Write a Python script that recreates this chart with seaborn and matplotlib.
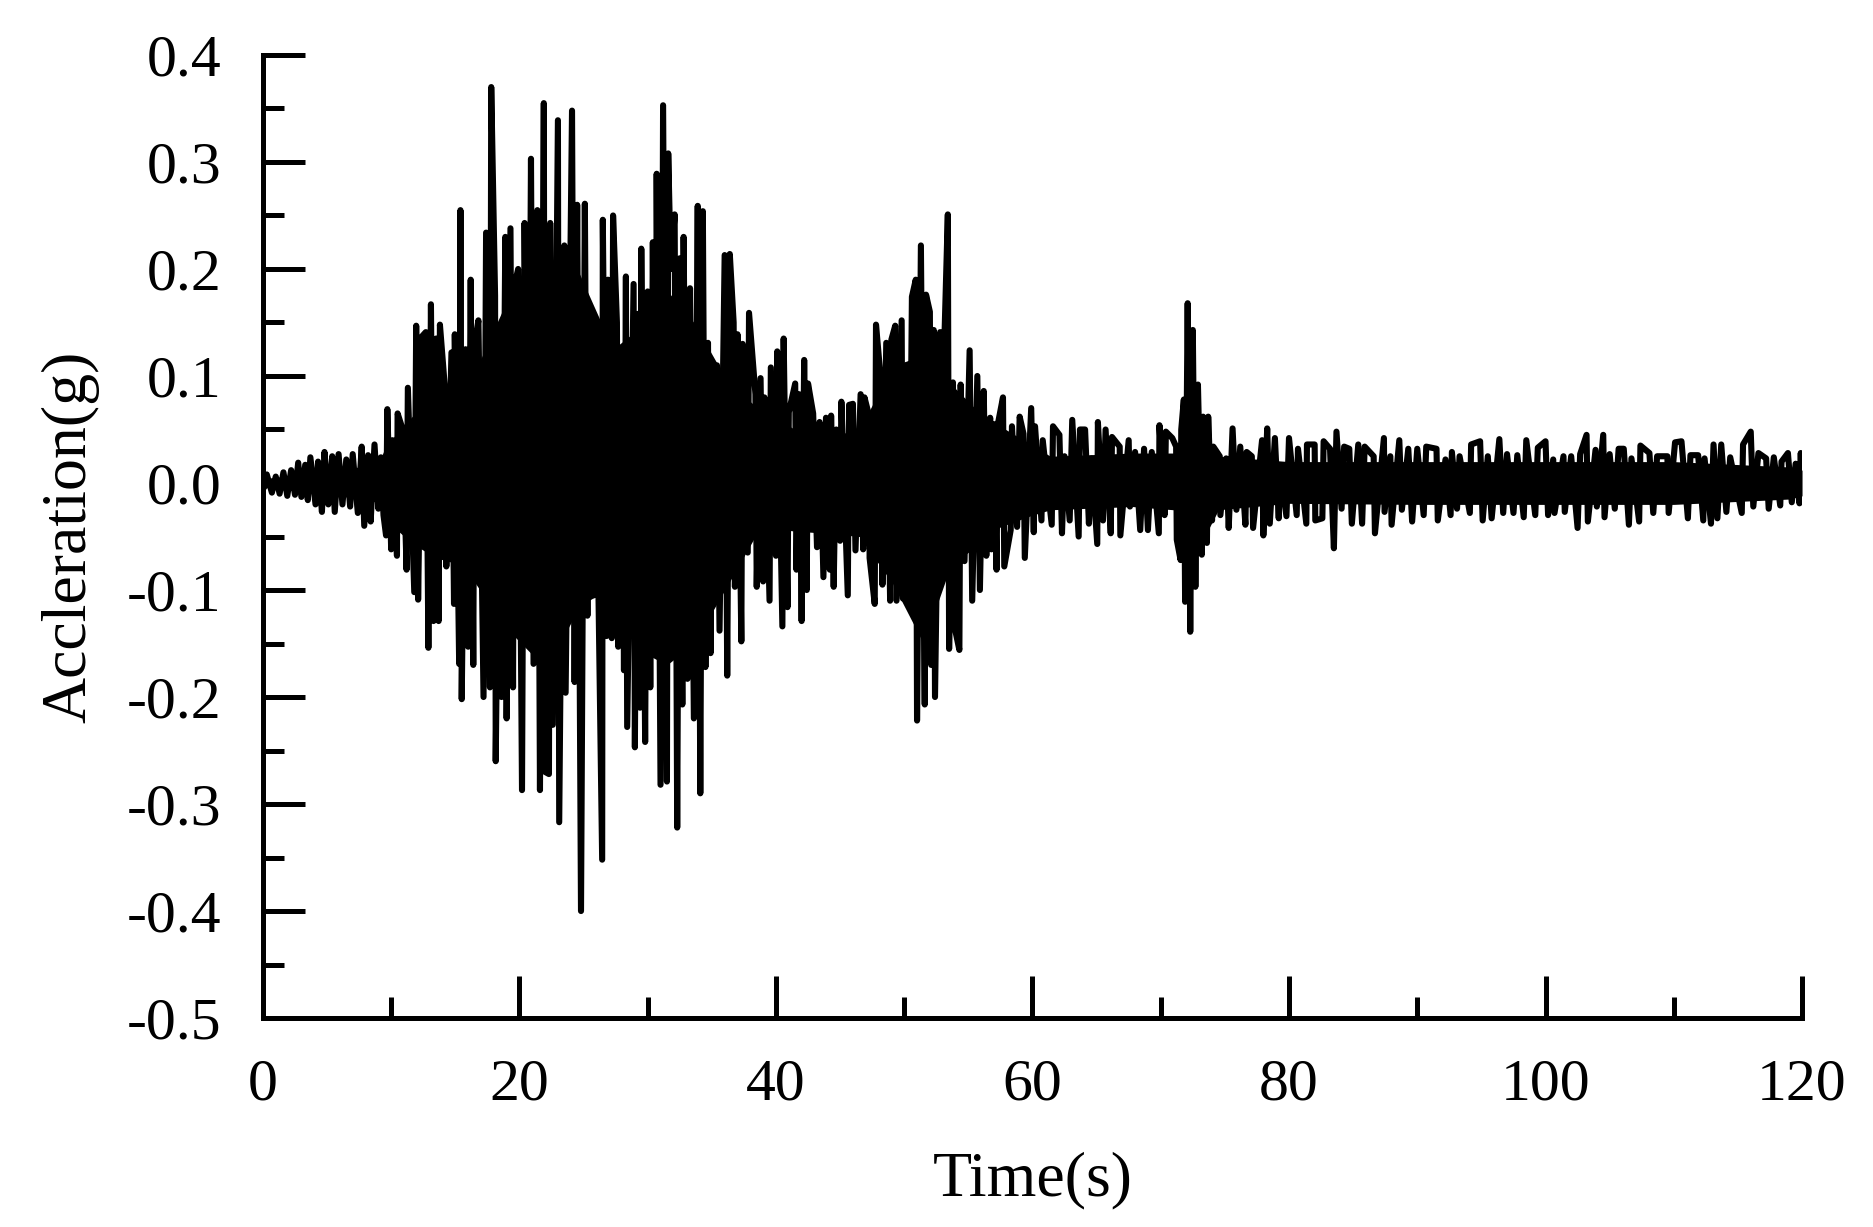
import pandas as pd
import matplotlib
matplotlib.use("Agg")
import matplotlib.pyplot as plt
from matplotlib.ticker import MultipleLocator, FormatStrFormatter
import seaborn as sns

# positive peaks of the accelerogram (time in s, acceleration in g)
up_t = [0.0, 0.3, 1.0, 1.6, 2.2, 2.75, 3.3, 3.7, 4.3, 4.8, 5.4, 5.9, 6.5, 7.0, 7.7, 8.2, 8.7, 9.2,
        9.7, 10.1, 10.5, 10.9, 11.3, 11.95, 12.4, 12.7, 13.1, 13.5, 13.8, 14.2, 14.7, 14.96, 15.4, 15.8,
        16.2, 16.5, 16.8, 17.4, 17.8, 18.1, 18.5, 18.9, 19.3, 19.6, 19.9, 20.4, 20.9, 21.4, 21.9, 22.4,
        23.0, 23.5, 24.1, 24.5, 25.1, 25.4, 25.9, 26.5, 26.9, 27.3, 27.6, 28.0, 28.3, 28.9, 29.2, 29.5,
        30.0, 30.4, 30.7, 31.2, 31.6, 31.8, 32.1, 32.5, 32.8, 33.3, 33.9, 34.3, 34.7, 35.0, 35.4, 36.0,
        36.4, 36.7, 37.0, 37.4, 37.9, 38.4, 38.8, 39.1, 39.6, 40.1, 40.6, 41.0, 41.5, 41.8, 42.2, 42.5,
        42.9, 43.4, 43.9, 44.3, 44.7, 45.1, 45.7, 46.0, 46.6, 46.9, 47.3, 47.8, 48.2, 48.6, 49.0, 49.3,
        49.8, 50.2, 50.6, 50.9, 51.3, 51.7, 52.0, 52.3, 52.8, 53.1, 53.4, 53.8, 54.4, 55.1, 55.7, 56.2,
        56.7, 57.0, 57.3, 57.7, 58.4, 59.0, 59.3, 59.9, 60.2, 60.8, 61.6, 62.1, 62.5, 63.1, 63.7, 64.1,
        64.6, 65.1, 65.7, 66.2, 66.8, 67.5, 68.0, 68.7, 69.3, 69.9, 70.4, 70.9, 71.2, 71.6, 71.8, 72.1,
        72.5, 72.9, 73.3, 73.7, 74.1, 74.6, 75.1, 75.6, 76.2, 76.7, 77.1, 77.9, 78.3, 78.9, 79.3, 80.0,
        80.7, 81.4, 82.0, 82.7, 83.2, 83.7, 84.3, 84.7, 85.4, 85.9, 86.6, 87.4, 87.9, 88.6, 89.3, 90.0,
        90.7, 91.5, 92.2, 92.7, 93.3, 94.2, 94.9, 95.5, 96.4, 97.0, 97.8, 98.5, 99.4, 100.0, 100.6, 101.4,
        102.0, 102.7, 103.2, 103.9, 104.5, 105.0, 105.7, 106.1, 106.7, 107.4, 108.1, 108.7, 109.5, 110.1,
        110.6, 111.3, 111.9, 112.4, 113.1, 113.7, 114.4, 115.4, 116.0, 116.6, 117.2, 117.8, 118.4, 118.9,
        119.5, 119.9]
up_a = [0.0, 0.008, 0.006, 0.010, 0.012, 0.019, 0.017, 0.024, 0.020, 0.029, 0.025, 0.027, 0.022, 0.027, 0.034, 0.026, 0.036, 0.024,
        0.069, 0.040, 0.065, 0.050, 0.089, 0.147, 0.137, 0.141, 0.167, 0.135, 0.148, 0.087, 0.122, 0.139, 0.255, 0.125,
        0.190, 0.128, 0.152, 0.234, 0.370, 0.175, 0.126, 0.230, 0.238, 0.184, 0.200, 0.243, 0.303, 0.255, 0.355, 0.243,
        0.339, 0.222, 0.348, 0.260, 0.261, 0.144, 0.122, 0.246, 0.190, 0.250, 0.150, 0.117, 0.193, 0.186, 0.158, 0.219,
        0.179, 0.225, 0.289, 0.353, 0.308, 0.200, 0.251, 0.210, 0.230, 0.182, 0.259, 0.254, 0.131, 0.110, 0.110, 0.213,
        0.214, 0.150, 0.139, 0.130, 0.159, 0.083, 0.098, 0.080, 0.108, 0.123, 0.135, 0.066, 0.093, 0.083, 0.115, 0.093,
        0.065, 0.057, 0.061, 0.063, 0.050, 0.076, 0.073, 0.074, 0.083, 0.080, 0.061, 0.148, 0.093, 0.131, 0.134, 0.147,
        0.152, 0.110, 0.174, 0.190, 0.222, 0.176, 0.160, 0.143, 0.141, 0.120, 0.251, 0.094, 0.092, 0.124, 0.100, 0.086,
        0.061, 0.055, 0.055, 0.080, 0.053, 0.062, 0.046, 0.070, 0.053, 0.040, 0.053, 0.045, 0.025, 0.059, 0.050, 0.050,
        0.023, 0.057, 0.050, 0.043, 0.034, 0.040, 0.029, 0.032, 0.029, 0.054, 0.048, 0.042, 0.034, 0.050, 0.078, 0.168,
        0.143, 0.092, 0.062, 0.062, 0.034, 0.025, 0.023, 0.051, 0.034, 0.029, 0.025, 0.040, 0.051, 0.042, 0.014, 0.042,
        0.032, 0.036, 0.036, 0.039, 0.032, 0.048, 0.034, 0.032, 0.036, 0.034, 0.025, 0.042, 0.025, 0.040, 0.032, 0.032,
        0.034, 0.032, 0.022, 0.029, 0.025, 0.036, 0.039, 0.025, 0.041, 0.027, 0.026, 0.040, 0.033, 0.039, 0.022, 0.025,
        0.025, 0.027, 0.045, 0.031, 0.045, 0.027, 0.032, 0.032, 0.023, 0.035, 0.028, 0.025, 0.025, 0.038,
        0.039, 0.026, 0.026, 0.023, 0.036, 0.036, 0.024, 0.036, 0.048, 0.028, 0.023, 0.024, 0.020, 0.028,
        0.018, 0.028]

# negative peaks
dn_t = [0.1, 0.7, 1.3, 1.9, 2.5, 3.0, 3.5, 4.1, 4.6, 5.1, 5.6, 6.2, 6.8, 7.4, 7.9, 8.4, 9.0, 9.4,
        9.6, 10.0, 10.45, 11.2, 11.8, 12.1, 12.9, 13.3, 13.7, 14.3, 14.9, 15.3, 15.5, 16.0, 16.4, 17.2,
        17.7, 18.15, 18.6, 19.0, 19.5, 20.2, 20.7, 21.1, 21.6, 22.0, 22.3, 22.6, 23.1, 23.6, 24.3, 24.8,
        25.3, 25.8, 26.45, 26.8, 27.2, 27.7, 28.15, 28.4, 29.0, 29.4, 29.8, 30.2, 30.6, 31.0, 31.5, 32.3,
        32.7, 33.1, 33.6, 34.1, 34.5, 34.9, 35.6, 36.2, 36.8, 37.3, 37.8, 38.5, 39.0, 39.5, 40.0, 40.5,
        40.9, 41.6, 42.0, 42.4, 43.2, 43.7, 44.2, 44.5, 45.0, 45.6, 46.2, 46.8, 47.3, 47.7, 48.3, 48.9,
        49.4, 49.9, 50.4, 51.0, 51.6, 52.1, 52.4, 52.9, 53.5, 53.9, 54.3, 54.7, 55.3, 55.9, 56.4, 56.8,
        57.2, 57.8, 58.3, 58.8, 59.4, 60.1, 60.7, 61.5, 62.3, 62.9, 63.6, 64.4, 65.05, 65.5, 66.1, 66.85,
        67.6, 68.4, 69.0, 69.85, 70.3, 71.25, 71.55, 71.9, 72.3, 72.7, 73.2, 73.6, 74.0, 74.65, 75.3, 75.9,
        76.6, 77.2, 78.0, 78.5, 79.2, 79.8, 80.6, 81.35, 82.05, 82.6, 83.5, 84.1, 84.9, 85.7, 86.7, 87.45,
        88.0, 88.8, 89.6, 90.5, 91.6, 92.6, 93.1, 94.1, 95.1, 95.8, 96.7, 97.5, 98.3, 99.2, 100.2, 100.7,
        101.5, 102.5, 103.3, 104.0, 104.6, 105.4, 106.5, 107.3, 108.4, 109.6, 111.1, 112.3, 112.9, 113.4,
        114.1, 115.3, 116.2, 117.4, 118.3, 119.2, 119.8, 120.0]
dn_a = [-0.004, -0.009, -0.010, -0.012, -0.011, -0.013, -0.016, -0.020, -0.027, -0.020, -0.027, -0.020, -0.022, -0.028, -0.040, -0.036, -0.024, -0.030,
        -0.049, -0.062, -0.068, -0.081, -0.102, -0.109, -0.154, -0.129, -0.129, -0.078, -0.113, -0.169, -0.202, -0.153, -0.170, -0.200,
        -0.191, -0.260, -0.200, -0.220, -0.191, -0.287, -0.100, -0.169, -0.287, -0.270, -0.272, -0.226, -0.317, -0.196, -0.186, -0.400,
        -0.124, -0.105, -0.352, -0.143, -0.145, -0.153, -0.175, -0.228, -0.247, -0.210, -0.242, -0.191, -0.129, -0.282, -0.279, -0.322,
        -0.207, -0.183, -0.220, -0.290, -0.172, -0.159, -0.138, -0.180, -0.097, -0.148, -0.065, -0.097, -0.092, -0.110, -0.068, -0.134,
        -0.116, -0.081, -0.129, -0.100, -0.060, -0.088, -0.081, -0.097, -0.054, -0.105, -0.063, -0.062, -0.070, -0.113, -0.095, -0.110,
        -0.110, -0.108, -0.084, -0.222, -0.207, -0.170, -0.200, -0.084, -0.155, -0.133, -0.156, -0.073, -0.110, -0.100, -0.068, -0.062,
        -0.081, -0.078, -0.044, -0.041, -0.070, -0.046, -0.035, -0.039, -0.047, -0.035, -0.050, -0.038, -0.057, -0.035, -0.047, -0.049,
        -0.022, -0.044, -0.044, -0.047, -0.030, -0.053, -0.072, -0.111, -0.139, -0.097, -0.067, -0.056, -0.035, -0.030, -0.042, -0.025,
        -0.039, -0.042, -0.049, -0.038, -0.033, -0.031, -0.030, -0.038, -0.035, -0.033, -0.061, -0.024, -0.038, -0.038, -0.047, -0.027,
        -0.039, -0.025, -0.036, -0.030, -0.035, -0.030, -0.024, -0.028, -0.035, -0.033, -0.028, -0.028, -0.032, -0.030, -0.030, -0.028,
        -0.027, -0.042, -0.036, -0.022, -0.032, -0.024, -0.039, -0.036, -0.028, -0.028, -0.033, -0.035, -0.038, -0.033,
        -0.027, -0.028, -0.022, -0.024, -0.021, -0.018, -0.019, -0.010]

# solid (densely sampled) core of the record, upper and lower edge
core_t = [0, 3, 6, 9, 9.6, 11.7, 13.5, 15.6, 17.5, 19.5, 22.1, 24.7, 27.3, 29.9, 31.5, 33.6, 36.3, 38.8,
          41.5, 44.0, 46.5, 49.1, 51.5, 53.6, 55.5, 57.5, 60, 61.4, 67.8, 71.0, 71.8, 72.3, 73.0, 74.5,
          80, 90, 100, 110, 119, 120]
core_hi = [0.004, 0.008, 0.012, 0.018, 0.035, 0.063, 0.070, 0.078, 0.130, 0.183, 0.199, 0.195, 0.125, 0.150,
           0.180, 0.150, 0.093, 0.068, 0.050, 0.043, 0.050, 0.109, 0.120, 0.093, 0.070, 0.053, 0.035, 0.025,
           0.028, 0.028, 0.050, 0.090, 0.050, 0.025, 0.020, 0.020, 0.020, 0.020, 0.015, 0.012]
core_lo = [-0.004, -0.008, -0.012, -0.018, -0.035, -0.057, -0.070, -0.077, -0.110, -0.142, -0.174, -0.115, -0.096, -0.160,
           -0.170, -0.150, -0.094, -0.041, -0.045, -0.047, -0.050, -0.094, -0.150, -0.078, -0.060, -0.041, -0.030, -0.025,
           -0.022, -0.025, -0.060, -0.100, -0.060, -0.025, -0.019, -0.020, -0.020, -0.020, -0.015, -0.012]

x_ticks = [0, 20, 40, 60, 80, 100, 120]
y_ticks = [-0.5, -0.4, -0.3, -0.2, -0.1, 0.0, 0.1, 0.2, 0.3, 0.4]

df = pd.DataFrame({"t": up_t + dn_t, "a": up_a + dn_a})
df = df.sort_values("t", kind="stable").reset_index(drop=True)

sns.set_style("ticks")
plt.rcParams["font.family"] = ["Liberation Serif", "DejaVu Serif"]
plt.rcParams["axes.unicode_minus"] = False
for key in ["text.color", "axes.labelcolor", "xtick.color", "ytick.color"]:
    plt.rcParams[key] = "black"

fig = plt.figure(figsize=(18.74, 12.27), dpi=100)
ax = fig.add_axes([0.1403, 0.1703, 0.8213, 0.7849])

ax.fill_between(core_t, core_lo, core_hi, color="black", linewidth=0)
sns.lineplot(data=df, x="t", y="a", sort=False, estimator=None,
             color="black", linewidth=4.4, ax=ax)

ax.set_xlim(0, 120)
ax.set_ylim(-0.5, 0.4)
ax.set_xticks(x_ticks)
ax.set_yticks(y_ticks)
ax.xaxis.set_minor_locator(MultipleLocator(10))
ax.yaxis.set_minor_locator(MultipleLocator(0.05))
ax.yaxis.set_major_formatter(FormatStrFormatter("%.1f"))

ax.tick_params(which="major", direction="in", length=30, width=3.6, labelsize=43)
ax.tick_params(which="minor", direction="in", length=15, width=3.6)
ax.tick_params(axis="x", which="major", pad=29)
ax.tick_params(axis="y", which="major", pad=30)

sns.despine(ax=ax)
for side in ["left", "bottom"]:
    ax.spines[side].set_linewidth(3.6)
    ax.spines[side].set_color("black")

ax.set_xlabel("Time(s)", fontsize=46)
ax.set_ylabel("Accleration(g)", fontsize=46)
ax.xaxis.set_label_coords(0.5, -0.139)
ax.yaxis.set_label_coords(-0.106, 0.5)

fig.savefig("out.png", dpi=100, facecolor="white")
